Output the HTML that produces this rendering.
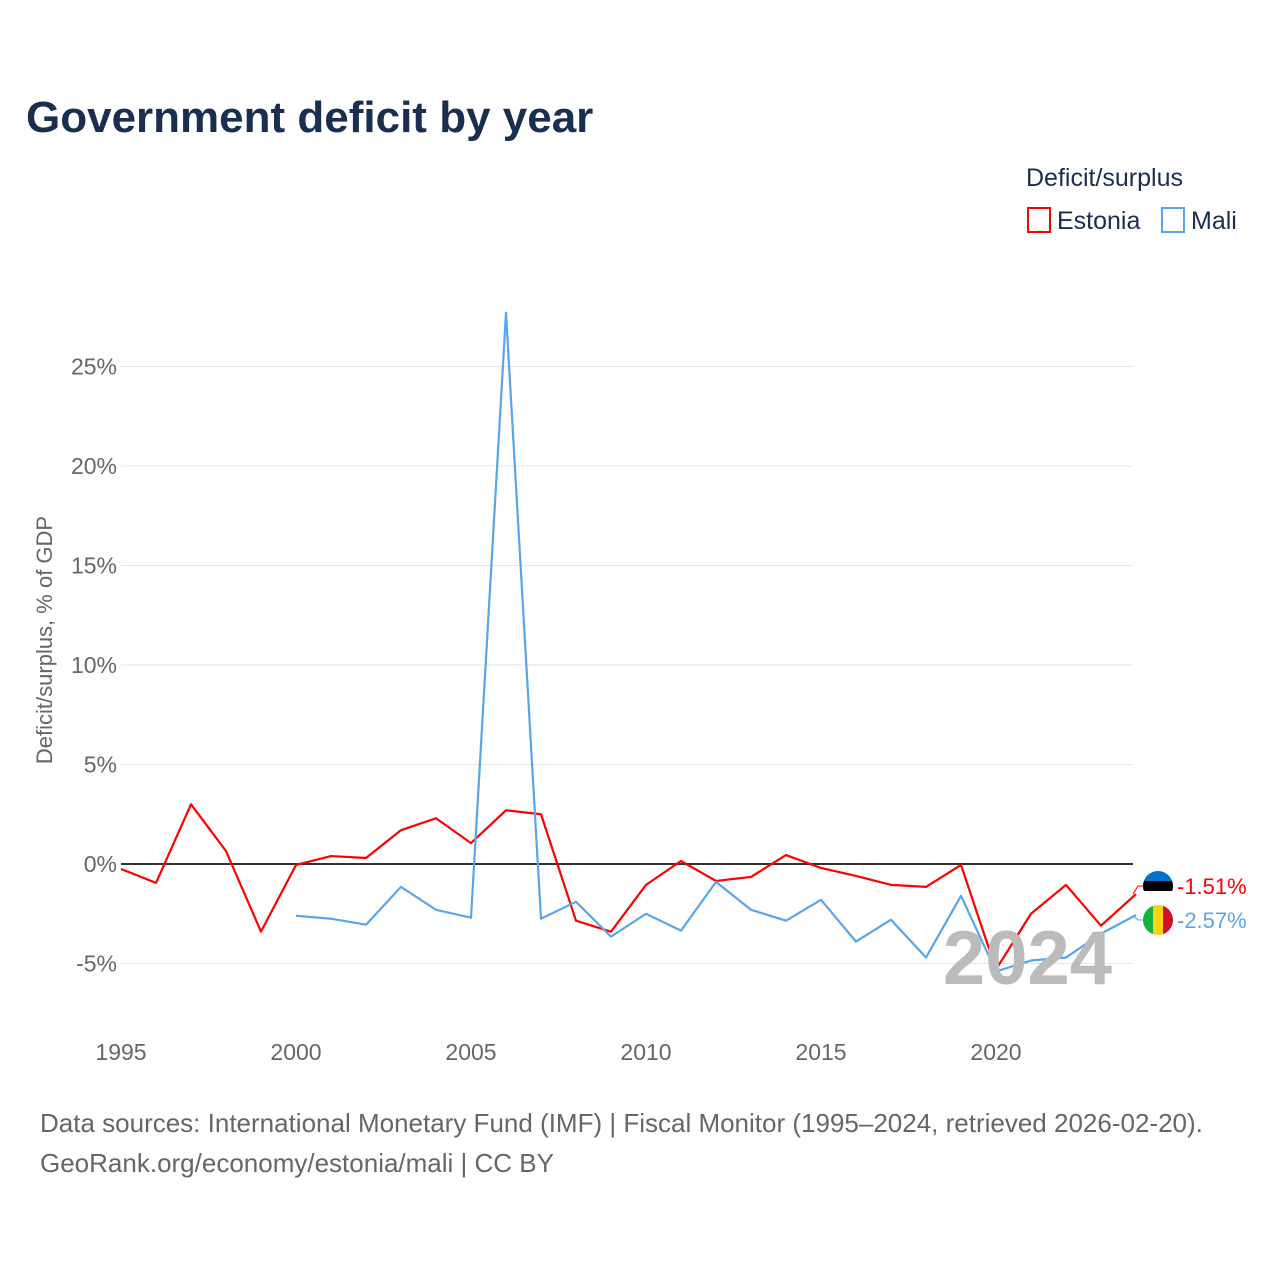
<!DOCTYPE html>
<html><head><meta charset="utf-8"><style>
body{margin:0;background:#fff;font-family:"Liberation Sans",sans-serif;}
#wrap{position:relative;width:1280px;height:1280px;overflow:hidden;}
</style></head><body>
<div id="wrap">
<svg id="chart" width="1280" height="1280" xmlns="http://www.w3.org/2000/svg" font-family="Liberation Sans, sans-serif">
<text x="26" y="132" font-size="44" font-weight="bold" fill="#1a2e4f">Government deficit by year</text>
<text x="1026" y="186" font-size="25" fill="#1a2e4f">Deficit/surplus</text>
<g><rect x="1028" y="208" width="22" height="24" fill="none" stroke="#ff0000" stroke-width="2"/><text x="1057" y="229" font-size="25" fill="#1a2e4f">Estonia</text></g>
<g><rect x="1162" y="208" width="22" height="24" fill="none" stroke="#5aa5ea" stroke-width="2"/><text x="1191" y="229" font-size="25" fill="#1a2e4f">Mali</text></g>
<text transform="translate(52,640) rotate(-90)" text-anchor="middle" font-size="22" fill="#666">Deficit/surplus, % of GDP</text>
<g id="grid"></g><g id="series"></g>
<text x="1112" y="984" text-anchor="end" font-size="76" font-weight="bold" fill="#bbb">2024</text>
<text x="40" y="1132" font-size="26" fill="#666">Data sources: International Monetary Fund (IMF) | Fiscal Monitor (1995–2024, retrieved 2026-02-20).</text>
<text x="40" y="1172" font-size="26" fill="#666">GeoRank.org/economy/estonia/mali | CC BY</text>
</svg></div>
<script>
const years=[];for(let y=1995;y<=2024;y++)years.push(y);
const estonia=[-0.25,-0.95,3.0,0.65,-3.4,-0.05,0.4,0.3,1.7,2.3,1.05,2.7,2.5,-2.85,-3.4,-1.05,0.15,-0.85,-0.65,0.45,-0.2,-0.6,-1.05,-1.15,-0.05,-5.3,-2.5,-1.05,-3.1,-1.51];
const maliYears=[2000,2001,2002,2003,2004,2005,2006,2007,2008,2009,2010,2011,2012,2013,2014,2015,2016,2017,2018,2019,2020,2021,2022,2023,2024];
const mali=[-2.6,-2.75,-3.05,-1.15,-2.3,-2.7,27.7,-2.75,-1.9,-3.65,-2.5,-3.35,-0.9,-2.3,-2.85,-1.8,-3.9,-2.8,-4.7,-1.6,-5.4,-4.85,-4.7,-3.5,-2.57];
const yTicks=[-5,0,5,10,15,20,25];
const xTicks=[1995,2000,2005,2010,2015,2020];
const X=y=>121+(y-1995)*35;
const Y=v=>864-v*19.9;
const NS="http://www.w3.org/2000/svg";
const grid=document.getElementById('grid'),ser=document.getElementById('series');
function mk(tag,attrs,parent){const e=document.createElementNS(NS,tag);for(const k in attrs)e.setAttribute(k,attrs[k]);parent.appendChild(e);return e;}
yTicks.forEach(v=>{
  const l=mk('line',{x1:121,x2:1133,y1:Y(v),y2:Y(v),stroke:v===0?'#333':'#e6e6e6','stroke-width':v===0?2:1},grid);
  
  
  const t=mk('text',{x:117,y:Y(v)+8,'text-anchor':'end','font-size':23,fill:'#666'},grid);
  t.textContent=v+'%';
  
  
});
xTicks.forEach(v=>{
  const t=mk('text',{x:X(v),y:1060,'text-anchor':'middle','font-size':23,fill:'#666'},grid);
  t.textContent=v;
  
  
});
const pe=mk('polyline',{points:years.map((y,i)=>X(y)+','+Y(estonia[i])).join(' '),fill:'none',stroke:'#ff0000','stroke-width':2.2,'stroke-linejoin':'round'},ser);


const pm=mk('polyline',{points:maliYears.map((y,i)=>X(y)+','+Y(mali[i])).join(' '),fill:'none',stroke:'#5aa5ea','stroke-width':2.2,'stroke-linejoin':'round'},ser);


const ye=Y(estonia[estonia.length-1]),ym=Y(mali[mali.length-1]);
const fe=mk('g',{},ser);


mk('clipPath',{id:'ce'},fe).appendChild(document.createElementNS(NS,'circle')).setAttribute('r',15);
document.querySelector('#ce circle').setAttribute('cx',1158);document.querySelector('#ce circle').setAttribute('cy',886);
mk('rect',{x:1143,y:871,width:30,height:10,fill:'#0072ce','clip-path':'url(#ce)'},fe);
mk('rect',{x:1143,y:881,width:30,height:10,fill:'#000','clip-path':'url(#ce)'},fe);
mk('rect',{x:1143,y:891,width:30,height:10,fill:'#fff','clip-path':'url(#ce)'},fe);
const fm=mk('g',{},ser);


mk('clipPath',{id:'cm'},fm).appendChild(document.createElementNS(NS,'circle')).setAttribute('r',15);
document.querySelector('#cm circle').setAttribute('cx',1158);document.querySelector('#cm circle').setAttribute('cy',920);
mk('rect',{x:1143,y:905,width:10,height:30,fill:'#14b53a','clip-path':'url(#cm)'},fm);
mk('rect',{x:1153,y:905,width:10,height:30,fill:'#fcd116','clip-path':'url(#cm)'},fm);
mk('rect',{x:1163,y:905,width:10,height:30,fill:'#ce1126','clip-path':'url(#cm)'},fm);
mk('polyline',{points:`1133,${ye} 1138,886 1143,886`,fill:'none',stroke:'#ff0000','stroke-width':1},ser);
mk('polyline',{points:`1133,${ym} 1138,920 1143,920`,fill:'none',stroke:'#5aa5ea','stroke-width':1},ser);
const te=mk('text',{x:1177,y:894,'font-size':22,fill:'#ff0000'},ser);
te.textContent=estonia[estonia.length-1].toFixed(2)+'%';


const tm=mk('text',{x:1177,y:928,'font-size':22,fill:'#5aa5ea'},ser);
tm.textContent=mali[mali.length-1].toFixed(2)+'%';


</script>
</body></html>
